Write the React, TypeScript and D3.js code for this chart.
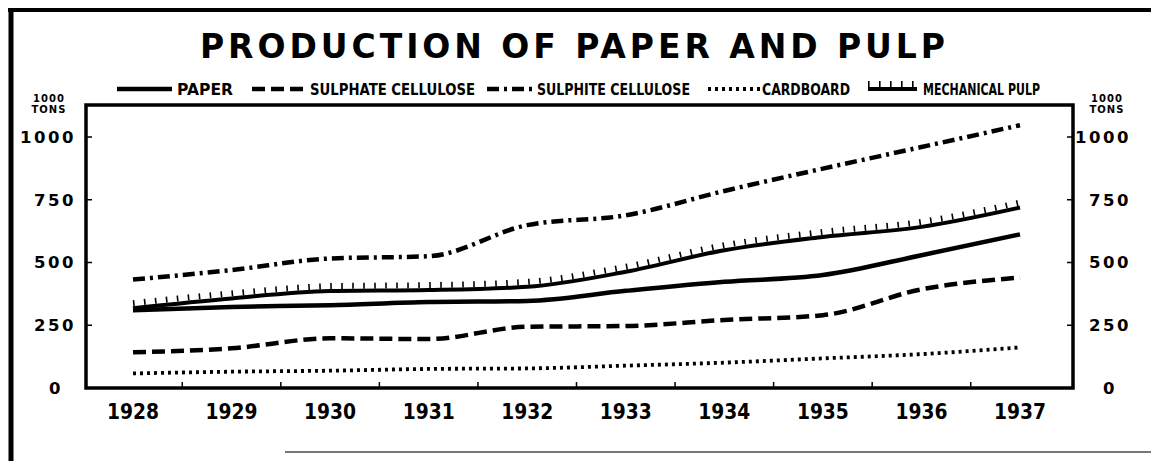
import React from 'react';
import * as d3 from 'd3';

// ---------- data ----------
const years = ['1928', '1929', '1930', '1931', '1932', '1933', '1934', '1935', '1936', '1937'];
const paper = [310, 323, 330, 343, 347, 387, 423, 450, 529, 612];
const sulphateCellulose = [142, 158, 198, 195, 244, 247, 271, 290, 393, 440];
const sulphiteCellulose = [432, 470, 516, 525, 649, 688, 785, 874, 960, 1047];
const cardboard = [58, 65, 69, 76, 78, 89, 101, 118, 135, 162];
const mechanicalPulp = [318, 357, 386, 390, 403, 463, 549, 602, 642, 719];
const yTicks = [0, 250, 500, 750, 1000];
const seriesNames = ['PAPER', 'SULPHATE CELLULOSE', 'SULPHITE CELLULOSE', 'CARDBOARD', 'MECHANICAL PULP'];
const titleText = 'PRODUCTION OF PAPER AND PULP';
const unitLines = ['1000', 'TONS'];

// ---------- layout ----------
const W = 1151;
const H = 461;
const box = { left: 86, right: 1073, top: 105, bottom: 388 };
const legendLayout = [
  { lx: 117, lw: 55, tx: 177, tw: 56 },
  { lx: 252, lw: 51, tx: 310, tw: 165 },
  { lx: 487, lw: 46, tx: 537, tw: 153 },
  { lx: 708, lw: 52, tx: 762, tw: 88 },
  { lx: 868, lw: 49, tx: 923, tw: 117 },
];

type Style = { width: number; dash?: string; cap?: 'butt' | 'round'; ticks?: boolean };
const styles: Style[] = [
  { width: 4.5 },
  { width: 4.5, dash: '13 6' },
  { width: 4.5, dash: '12 5 3 5' },
  { width: 3.8, dash: '3 4' },
  { width: 4, ticks: true },
];

export default function App() {
  const x = d3.scalePoint<string>().domain(years).range([133, 1020]);
  const y = d3.scaleLinear().domain([0, 1000]).range([box.bottom, 137]);
  const line = d3
    .line<number>()
    .x((_, i) => x(years[i]) as number)
    .y((d) => y(d))
    .curve(d3.curveMonotoneX);
  const allSeries = [paper, sulphateCellulose, sulphiteCellulose, cardboard, mechanicalPulp];
  const step = x.step();
  const midTicks = years.slice(0, -1).map((yr) => (x(yr) as number) + step / 2);
  const font = "'DejaVu Sans', sans-serif";

  const renderPath = (d: string, s: Style, key: string) => (
    <g key={key}>
      <path
        d={d}
        fill="none"
        stroke="#000"
        strokeWidth={s.width}
        strokeDasharray={s.dash}
        strokeLinecap="butt"
        strokeLinejoin="round"
      />
      {s.ticks && (
        <path
          d={d}
          transform="translate(0,-5)"
          fill="none"
          stroke="#000"
          strokeWidth={6}
          strokeDasharray="1.6 9.4"
        />
      )}
    </g>
  );

  return (
    <svg
      width={W}
      height={H}
      style={{ position: 'absolute', left: 0, top: 0, background: '#fff' }}
      fontFamily={font}
    >
      <rect x={0} y={0} width={W} height={H} fill="#fff" />
      {/* outer frame */}
      <line x1={8} x2={W} y1={10} y2={10} stroke="#000" strokeWidth={4} />
      <line x1={11} x2={11} y1={8} y2={H} stroke="#000" strokeWidth={5} />
      <line x1={285} x2={W} y1={452} y2={452} stroke="#777" strokeWidth={2} />

      {/* title */}
      <text
        x={200}
        y={58}
        fontSize={33}
        fontWeight="bold"
        textLength={745}
        lengthAdjust="spacing"
      >
        {titleText}
      </text>

      {/* legend */}
      {seriesNames.map((name, i) => {
        const L = legendLayout[i];
        const s = styles[i];
        const d = `M${L.lx},89 L${L.lx + L.lw},89`;
        return (
          <g key={name}>
            {renderPath(d, s, 'lg' + i)}
            <text
              x={L.tx}
              y={95}
              fontSize={15.5}
              fontWeight="bold"
              textLength={L.tw}
              lengthAdjust="spacingAndGlyphs"
            >
              {name}
            </text>
          </g>
        );
      })}

      {/* unit labels */}
      {[49, 1107].map((cx) => (
        <text key={cx} x={cx} textAnchor="middle" fontWeight="bold" fontSize={10} letterSpacing={1}>
          <tspan x={cx} y={102}>{unitLines[0]}</tspan>
          <tspan x={cx} y={113}>{unitLines[1]}</tspan>
        </text>
      ))}

      {/* plot box */}
      <rect
        x={box.left}
        y={box.top}
        width={box.right - box.left}
        height={box.bottom - box.top}
        fill="none"
        stroke="#000"
        strokeWidth={3.5}
      />

      {/* y ticks & labels */}
      {yTicks.map((t) => (
        <g key={t}>
          {t > 0 && (
            <>
              <line x1={box.left} x2={box.left + 6} y1={y(t)} y2={y(t)} stroke="#000" strokeWidth={1.5} />
              <line x1={box.right - 6} x2={box.right} y1={y(t)} y2={y(t)} stroke="#000" strokeWidth={1.5} />
            </>
          )}
          <text
            x={t === 0 ? 63 : 76}
            y={y(t)}
            dy="0.36em"
            textAnchor="end"
            fontSize={16.5}
            fontWeight="bold"
            letterSpacing={2.5}
          >
            {String(t)}
          </text>
          <text
            x={t === 0 ? 1117 : 1131}
            y={y(t)}
            dy="0.36em"
            textAnchor="end"
            fontSize={16.5}
            fontWeight="bold"
            letterSpacing={2.5}
          >
            {String(t)}
          </text>
        </g>
      ))}

      {/* x ticks & labels */}
      {midTicks.map((mx, i) => (
        <line key={i} x1={mx} x2={mx} y1={box.bottom} y2={box.bottom - 6} stroke="#000" strokeWidth={1.5} />
      ))}
      {years.map((yr) => (
        <text
          key={yr}
          x={x(yr)}
          y={419}
          textAnchor="middle"
          fontSize={21}
          fontWeight="bold"
          textLength={52}
          lengthAdjust="spacingAndGlyphs"
        >
          {yr}
        </text>
      ))}

      {/* series */}
      {allSeries.map((vals, i) => renderPath(line(vals) as string, styles[i], 's' + i))}
    </svg>
  );
}
